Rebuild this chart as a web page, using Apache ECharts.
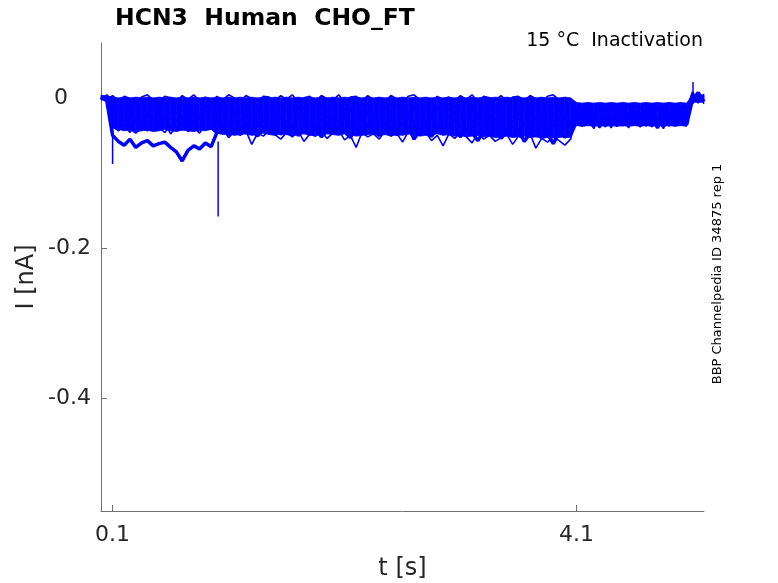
<!DOCTYPE html>
<html>
<head>
<meta charset="utf-8">
<title>HCN3 Human CHO_FT</title>
<script src="https://cdn.jsdelivr.net/npm/echarts@6/dist/echarts.min.js"></script>
<style>
    html, body { margin: 0; padding: 0; background: #fff; }
    .trace { width: 778px; height: 583px; }
</style>
</head>
<body>
<div class="trace"></div>
<script>
// sweeps sampled every 0.05 s from 0 to 5.2 s, values in pA
// 0-0.1 s holding, 0.1-4.1 s test pulse, 4.1-5.1 s tail pulse, 5.1-5.2 s holding
const dt = 0.05

// dense core of the overlapping noisy sweeps (upper and lower edge, pA)
const coreTop = [
    3, 3, 1, 0, 1, 0, 1, 0, 1, 0,
    1, 0, 1, 0, 1, 0, 1, 0, 1, 0,
    1, 0, 1, 0, 1, 0, 1, 0, 1, 0,
    1, 0, 1, 0, 1, 0, 1, 0, 1, 0,
    1, 0, 1, 0, 1, 0, 1, 0, 1, 0,
    1, 0, 1, 0, 1, 0, 1, 0, 1, 0,
    1, 0, 1, 0, 1, 0, 1, 0, 1, 0,
    1, 0, 1, 0, 1, 0, 1, 0, 1, 0,
    1, 0, -6, -7, -6, -7, -6, -7, -6, -7,
    -6, -7, -6, -7, -6, -7, -6, -7, -6, -7,
    -6, -7, 4, 4, 4
]
const coreBottom = [
    -3, -3, -40, -42, -44, -43, -45, -44, -43, -45,
    -44, -42, -44, -45, -43, -44, -45, -43, -44, -42,
    -47, -49, -48, -50, -49, -48, -50, -49, -47, -49,
    -50, -48, -49, -51, -49, -48, -50, -49, -51, -48,
    -49, -50, -48, -49, -51, -50, -49, -48, -50, -49,
    -51, -49, -50, -48, -49, -51, -50, -49, -48, -50,
    -49, -51, -50, -52, -51, -50, -52, -51, -53, -52,
    -51, -53, -52, -51, -53, -52, -54, -53, -52, -53,
    -52, -53, -37, -38, -37, -38, -37, -38, -37, -38,
    -37, -38, -37, -38, -37, -38, -37, -38, -37, -38,
    -37, -38, -6, -6, -6
]

const sweep1 = [
    1, -2, 3, -4, 2, -1, -6, 1, 4, -3,
    -5, 2, 0, -7, 3, -2, 4, -4, 1, -6,
    2, -3, 4, 0, -5, 3, -1, -6, 2, 1,
    -4, 3, -2, 4, -6, 0, 2, -5, 3, -1,
    -3, 4, -6, 1, 2, -4, 3, -2, 0, -5,
    3, -1, -5, 2, 4, -3, 0, -6, 2, -2,
    1, -4, 3, -2, 4, -6, 2, 0, -3, 3,
    -5, 1, 2, -4, 3, -1, -6, 2, 4, -3,
    0, -4, -12, -25, -8, -31, -18, -36, -15, -27,
    -20, -34, -10, -28, -22, -39, -14, -30, -6, -24,
    -33, -17, 8, -4, 3
]
const sweep2 = [
    -3, 4, -6, -12, -3, -10, -14, -5, -9, -2,
    -11, -6, -15, -4, -9, -13, -7, -1, -10, -14,
    -5, -9, -3, -12, -8, -15, -6, -10, -2, -11,
    -13, -7, -4, -10, -14, -6, -9, -3, -12, -8,
    -2, -11, -7, -14, -5, -9, -12, -4, -8, -13,
    -6, -10, -3, -9, -15, -7, -11, -5, -13, -8,
    -4, -12, -9, -6, -14, -3, -10, -7, -12, -5,
    -9, -14, -6, -11, -3, -8, -13, -5, -10, -7,
    -12, -6, -28, -15, -35, -20, -9, -30, -24, -38,
    -16, -27, -33, -11, -25, -19, -36, -22, -8, -29,
    -21, -14, -5, 4, -2
]
const sweep3 = [
    2, -5, -10, -17, -12, -20, -8, -15, -19, -11,
    -16, -9, -21, -13, -18, -10, -14, -22, -12, -17,
    -8, -19, -13, -16, -21, -11, -15, -9, -18, -14,
    -20, -12, -17, -10, -15, -22, -13, -18, -9, -16,
    -11, -21, -14, -19, -12, -16, -8, -20, -15, -13,
    -18, -10, -16, -22, -13, -17, -11, -19, -14, -9,
    -15, -20, -12, -17, -10, -21, -16, -13, -19, -11,
    -14, -18, -22, -12, -16, -9, -20, -15, -11, -17,
    -21, -13, -18, -32, -26, -12, -37, -23, -16, -34,
    -28, -9, -31, -20, -38, -25, -14, -33, -19, -26,
    -11, -30, 2, -7, 5
]
const sweep4 = [
    -1, 3, -16, -24, -18, -27, -14, -22, -25, -17,
    -23, -15, -28, -19, -26, -13, -21, -24, -17, -29,
    -20, -14, -25, -18, -27, -22, -16, -28, -19, -23,
    -15, -26, -21, -17, -29, -23, -14, -25, -20, -18,
    -27, -19, -22, -15, -24, -28, -17, -21, -26, -16,
    -22, -29, -18, -25, -14, -23, -27, -19, -16, -26,
    -24, -17, -28, -21, -15, -26, -20, -29, -18, -23,
    -19, -25, -16, -27, -22, -14, -24, -28, -21, -17,
    -26, -20, -31, -19, -25, -36, -13, -29, -40, -22,
    -17, -35, -24, -12, -30, -21, -37, -15, -27, -32,
    -23, -18, -8, 2, -4
]
const sweep5 = [
    4, -1, -22, -31, -25, -19, -29, -34, -21, -27,
    -32, -24, -20, -30, -26, -35, -23, -28, -19, -33,
    -25, -29, -36, -22, -31, -27, -20, -34, -24, -30,
    -28, -21, -33, -26, -19, -30, -35, -23, -29, -25,
    -31, -24, -27, -34, -22, -29, -20, -32, -26, -36,
    -23, -30, -25, -21, -33, -28, -35, -24, -31, -27,
    -34, -22, -29, -26, -32, -20, -30, -25, -36, -28,
    -24, -31, -27, -35, -21, -29, -33, -26, -22, -30,
    -28, -34, -14, -27, -33, -18, -24, -39, -11, -30,
    -36, -22, -16, -31, -26, -9, -34, -20, -38, -23,
    -29, -13, 6, -3, 1
]
const sweep6 = [
    -2, 1, -28, -36, -30, -40, -26, -34, -38, -29,
    -35, -27, -41, -31, -37, -25, -33, -39, -30, -36,
    -26, -38, -32, -29, -42, -34, -27, -37, -31, -40,
    -33, -28, -39, -35, -26, -41, -30, -36, -29, -34,
    -38, -31, -27, -40, -33, -29, -37, -25, -35, -32,
    -30, -39, -34, -28, -36, -42, -31, -27, -38, -33,
    -37, -29, -35, -41, -30, -26, -39, -34, -28, -36,
    -31, -40, -27, -33, -38, -29, -35, -42, -30, -34,
    -39, -32, -24, -38, -20, -33, -27, -15, -35, -21,
    -30, -40, -18, -26, -34, -13, -29, -37, -23, -31,
    -16, -35, -6, 3, -1
]
const sweep7 = [
    0, -3, -34, -42, -37, -46, -31, -40, -44, -35,
    -41, -33, -48, -38, -43, -32, -39, -47, -36, -42,
    -35, -44, -39, -31, -49, -40, -34, -45, -37, -43,
    -40, -33, -46, -38, -42, -35, -50, -37, -41, -34,
    -44, -36, -41, -47, -33, -39, -45, -38, -32, -46,
    -37, -43, -35, -48, -40, -34, -42, -51, -36, -41,
    -45, -33, -39, -44, -37, -49, -35, -41, -46, -38,
    -42, -36, -47, -34, -40, -52, -38, -44, -35, -48,
    -41, -45, -22, -35, -29, -41, -17, -32, -26, -38,
    -12, -30, -24, -39, -19, -33, -27, -10, -36, -25,
    -32, -20, 4, -6, 2
]
const sweep8 = [
    -2, 2, -38, -44, -36, -42, -47, -39, -35, -43,
    -40, -46, -37, -41, -34, -45, -39, -43, -36, -41,
    -48, -42, -53, -45, -50, -44, -62, -47, -51, -43,
    -49, -55, -46, -52, -44, -58, -48, -51, -45, -54,
    -47, -43, -56, -50, -66, -46, -52, -48, -55, -44,
    -51, -47, -59, -45, -53, -49, -46, -57, -50, -64,
    -48, -54, -46, -52, -60, -47, -55, -50, -58, -53,
    -49, -62, -51, -56, -48, -67, -54, -59, -52, -57,
    -63, -55, -19, -31, -37, -24, -40, -28, -14, -34,
    -26, -38, -21, -32, -17, -36, -29, -41, -23, -30,
    -35, -27, -3, 5, -8
]
const sweep9 = [
    1, -4, -50, -58, -63, -55, -66, -60, -57, -64,
    -61, -59, -66, -72, -84, -70, -64, -68, -60, -65,
    -46, -40, -49, -43, -38, -47, -42, -51, -39, -45,
    -41, -48, -44, -37, -50, -43, -46, -40, -52, -42,
    -47, -39, -45, -53, -41, -48, -36, -44, -50, -43,
    -40, -49, -46, -38, -55, -42, -47, -51, -41, -45,
    -48, -43, -52, -40, -46, -57, -44, -49, -42, -54,
    -45, -50, -41, -58, -47, -43, -53, -48, -61, -46,
    -52, -49, -27, -16, -33, -22, -39, -11, -30, -25,
    -37, -20, -28, -34, -15, -26, -40, -19, -31, -8,
    -24, -36, -2, 7, -5
]

// brief artefacts (time in s, start and peak in pA)
const spikeT = [0.1, 1.01, 5.105]
const spikeFrom = [-12, -58, -8]
const spikeTo = [-88, -158, 21]

const xTicks = [0.1, 4.1]
const yTicks = [0, -0.2, -0.4]

;(function () {
    const myChart = echarts.init(document.querySelector('.trace'))
    const blue = '#0000ff'
    const sweeps = [sweep1, sweep2, sweep3, sweep4, sweep5, sweep6, sweep7, sweep8, sweep9]
    const tAt = i => +(i * dt).toFixed(3)
    const toPoints = vals => vals.map((v, i) => [tAt(i), v / 1000])

    // core band as one quad per sample step: [t0, t1, top0, top1, bottom0, bottom1]
    const coreData = []
    for (let i = 0; i < coreTop.length - 1; i++) {
        coreData.push([tAt(i), tAt(i + 1), coreTop[i] / 1000, coreTop[i + 1] / 1000,
            coreBottom[i] / 1000, coreBottom[i + 1] / 1000])
    }

    const series = [
        {
            type: 'custom',
            silent: true,
            encode: { x: [0, 1], y: [2, 3, 4, 5] },
            renderItem: function (params, api) {
                const pts = [
                    api.coord([api.value(0), api.value(2)]),
                    api.coord([api.value(1), api.value(3)]),
                    api.coord([api.value(1), api.value(5)]),
                    api.coord([api.value(0), api.value(4)])
                ]
                return {
                    type: 'polygon',
                    shape: { points: pts },
                    style: { fill: blue, stroke: blue, lineWidth: 0.6 }
                }
            },
            data: coreData
        }
    ]
    sweeps.forEach(function (vals, k) {
        series.push({
            type: 'line',
            symbol: 'none',
            silent: true,
            lineStyle: { color: blue, width: k === 8 ? 3.5 : 1.6 },
            data: toPoints(vals)
        })
    })
    spikeT.forEach(function (t, k) {
        series.push({
            type: 'line',
            symbol: 'none',
            silent: true,
            lineStyle: { color: blue, width: 1.5 },
            data: [[t, spikeFrom[k] / 1000], [t, spikeTo[k] / 1000]]
        })
    })

    const font = '"DejaVu Sans", sans-serif'
    const option = {
        animation: false,
        grid: { left: 101, top: 43, width: 603, height: 468, outerBoundsMode: 'none' },
        xAxis: {
            type: 'value',
            min: 0,
            max: 5.2,
            name: 't [s]',
            nameLocation: 'middle',
            nameGap: 46,
            nameMoveOverlap: false,
            nameTextStyle: { fontSize: 24, color: '#262626', fontFamily: font },
            axisLine: { onZero: false, lineStyle: { color: '#707070', width: 1 } },
            axisTick: { inside: true, length: 6, customValues: xTicks, lineStyle: { color: '#707070' } },
            axisLabel: {
                customValues: xTicks,
                margin: 13,
                fontSize: 22,
                color: '#262626',
                fontFamily: font,
                formatter: v => v.toFixed(1)
            },
            splitLine: { show: false }
        },
        yAxis: {
            type: 'value',
            min: -0.55,
            max: 0.073,
            name: 'I [nA]',
            nameLocation: 'middle',
            nameGap: 62,
            nameMoveOverlap: false,
            nameTextStyle: { fontSize: 24, color: '#262626', fontFamily: font },
            axisLine: { show: true, onZero: false, lineStyle: { color: '#707070', width: 1 } },
            axisTick: { inside: true, length: 6, customValues: yTicks, lineStyle: { color: '#707070' } },
            axisLabel: {
                customValues: yTicks,
                margin: 10,
                fontSize: 22,
                color: '#262626',
                fontFamily: font,
                formatter: v => v === 0 ? '{z|0}' : v.toFixed(1),
                rich: {
                    z: { fontSize: 22, color: '#262626', fontFamily: font, padding: [0, 23, 0, 0] }
                }
            },
            splitLine: { show: false }
        },
        graphic: [
            {
                type: 'text', x: 115, y: 19,
                style: { text: 'HCN3  Human  CHO_FT', font: 'bold 23.5px ' + font, fill: '#000', align: 'left', verticalAlign: 'middle' }
            },
            {
                type: 'text', x: 703, y: 41,
                style: { text: '15 °C  Inactivation', font: '19px ' + font, fill: '#000', align: 'right', verticalAlign: 'middle' }
            },
            {
                type: 'text', x: 718, y: 274, rotation: Math.PI / 2,
                style: { text: 'BBP Channelpedia ID 34875 rep 1', font: '13px ' + font, fill: '#000', align: 'center', verticalAlign: 'middle' }
            }
        ],
        series: series
    }
    myChart.setOption(option)
})()
</script>
</body>
</html>
